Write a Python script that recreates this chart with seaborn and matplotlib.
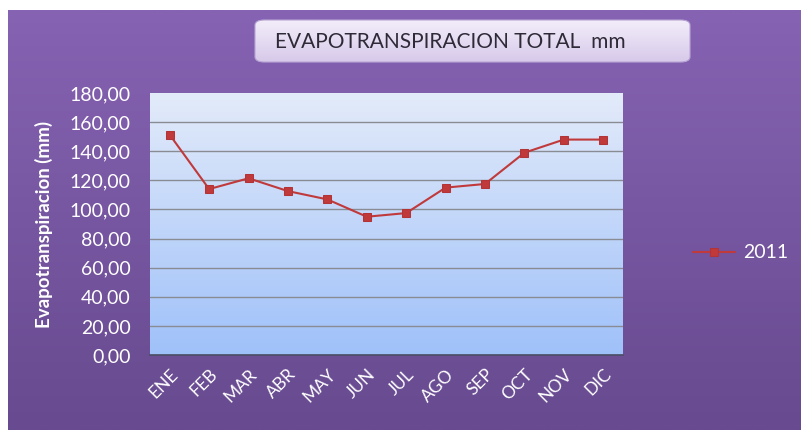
import matplotlib
matplotlib.use('Agg')
import matplotlib.pyplot as plt
from matplotlib.patches import FancyBboxPatch
import seaborn as sns
import numpy as np
import pandas as pd

# chart data
months = ['ENE', 'FEB', 'MAR', 'ABR', 'MAY', 'JUN', 'JUL', 'AGO', 'SEP', 'OCT', 'NOV', 'DIC']
et_2011 = [151.3, 114.0, 121.4, 112.6, 106.9, 95.0, 97.5, 115.0, 117.5, 139.0, 148.0, 148.0]
y_ticks = [0, 20, 40, 60, 80, 100, 120, 140, 160, 180]
y_tick_labels = ['0,00', '20,00', '40,00', '60,00', '80,00', '100,00', '120,00', '140,00', '160,00', '180,00']

sns.set_theme(style='white')
plt.rcParams['font.family'] = ['Lato', 'DejaVu Sans']

fig = plt.figure(figsize=(8.01, 4.30), dpi=100)
fig.patch.set_facecolor('white')


def vgrad(top, bottom, n=256):
    top = np.array(matplotlib.colors.to_rgb(top))
    bottom = np.array(matplotlib.colors.to_rgb(bottom))
    t = np.linspace(0, 1, n)[:, None]
    return (top * (1 - t) + bottom * t)[:, None, :]


# purple chart background
bg = fig.add_axes([8 / 801, 0, 1 - 8 / 801, 420 / 430])
bg.imshow(vgrad('#8663b3', '#674a8f'), aspect='auto', extent=[0, 1, 0, 1])
bg.set_axis_off()

# title box
box_xy = (255 / 801, (430 - 62) / 430)
box_w, box_h = 435 / 801, 42 / 430
box = FancyBboxPatch(box_xy, box_w, box_h,
                     boxstyle='round,pad=0,rounding_size=0.012',
                     transform=fig.transFigure, facecolor='none',
                     edgecolor='#b9a6d4', linewidth=0.8, zorder=3)
fig.patches.append(box)
tb = fig.add_axes([0, 0, 1, 1], zorder=2)
tb.set_axis_off()
img = tb.imshow(vgrad('#f3eefa', '#d7c9ea'), aspect='auto',
                extent=[255 / 801, 690 / 801, (430 - 62) / 430, (430 - 20) / 430],
                transform=fig.transFigure)
clip = FancyBboxPatch(box_xy, box_w, box_h,
                      boxstyle='round,pad=0,rounding_size=0.012',
                      transform=fig.transFigure, facecolor='none')
img.set_clip_path(clip)
tb.set_xlim(0, 1)
tb.set_ylim(0, 1)
fig.text(450 / 801, (430 - 42) / 430, 'EVAPOTRANSPIRACION TOTAL  mm',
         ha='center', va='center', fontsize=15, color='#2e2a38', zorder=5)

# main plot
ax = fig.add_axes([150 / 801, (430 - 355) / 430, 473 / 801, 262 / 430], zorder=4)
ax.imshow(vgrad('#e3ebf9', '#9fc1fa'), aspect='auto', extent=[0, 1, 0, 1],
          transform=ax.transAxes, zorder=0)

df = pd.DataFrame({'Mes': months, 'ET': et_2011})
df['pos'] = np.arange(len(months))
sns.lineplot(data=df, x='pos', y='ET', ax=ax, color='#c0393b', linewidth=1.5,
             marker='s', markersize=6, markeredgecolor='#b23436',
             markerfacecolor='#c0393b', label='2011', zorder=5)

ax.set_xlim(-0.5, len(months) - 0.5)
ax.set_ylim(0, 180)
ax.set_yticks(y_ticks)
ax.set_yticklabels(y_tick_labels)
ax.set_xticks(df['pos'])
ax.set_xticklabels(months, rotation=45, ha='right', rotation_mode='anchor')
for t in ax.get_xticklabels():
    t.set_color('white')
    t.set_fontsize(12.5)
for t in ax.get_yticklabels():
    t.set_color('white')
    t.set_fontsize(14)
ax.tick_params(axis='y', length=0, pad=14)
ax.tick_params(axis='x', length=0, pad=8)
ax.grid(False)
for y in y_ticks[1:-1]:
    ax.axhline(y, color='#8a8c94', linewidth=1.0, zorder=1)
for s in ax.spines.values():
    s.set_visible(False)
ax.spines['bottom'].set_visible(True)
ax.spines['bottom'].set_color('#4b4f66')
ax.set_xlabel('')
ax.set_ylabel('Evapotranspiracion (mm)', color='white', fontsize=13.5,
              fontweight='bold', labelpad=12)

leg = ax.legend(loc='center left', bbox_to_anchor=(1.11, 0.39), frameon=False,
                fontsize=14, handlelength=2.2, handletextpad=0.4)
for t in leg.get_texts():
    t.set_color('white')

fig.savefig('out.png', dpi=100)
